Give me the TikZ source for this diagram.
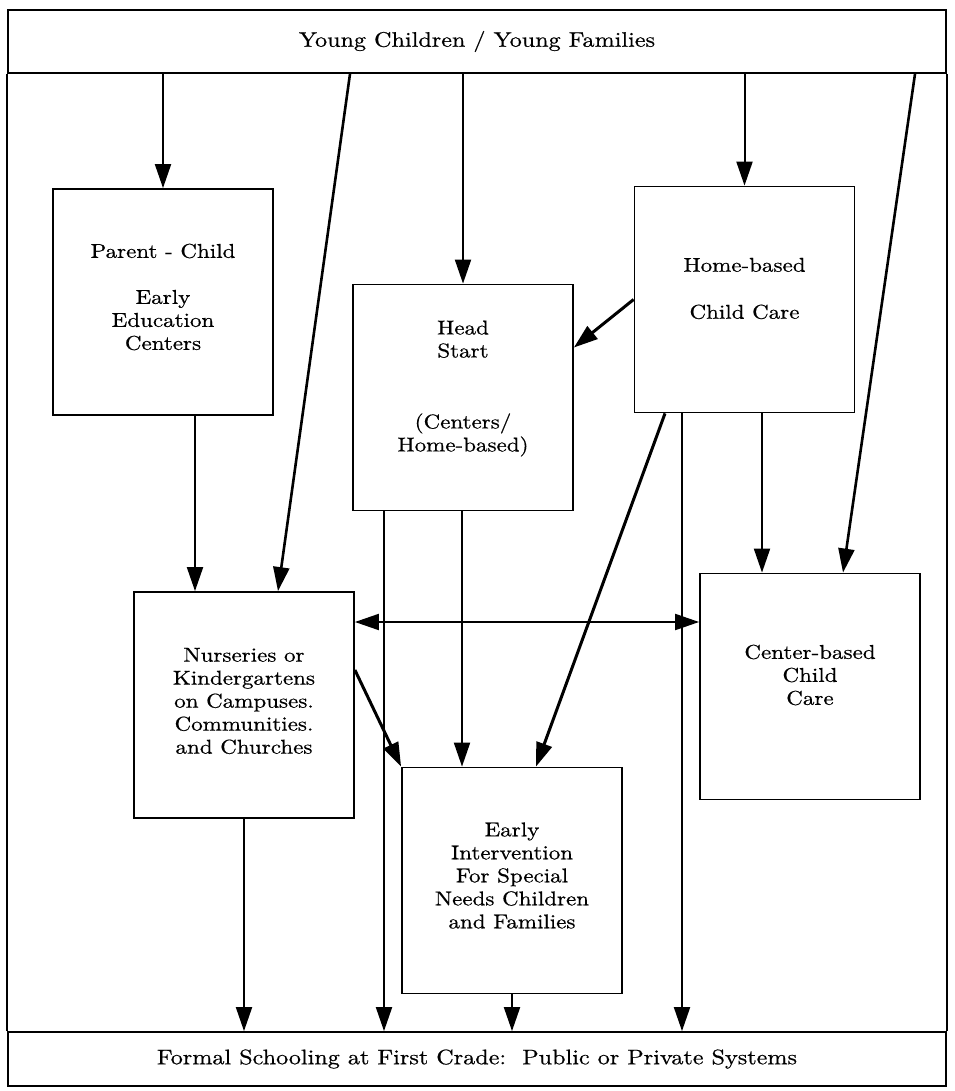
\documentclass[tikz,border=0pt]{standalone}
\usepackage{fontspec}
\newfontfamily\dfont{lmroman10-regular.otf}[FakeStretch=1.15,FakeBold=0.6]
\usetikzlibrary{arrows.meta,calc}
\begin{document}
\begin{tikzpicture}[x=1pt,y=-1pt,
  box/.style={draw, line width=1.8pt, minimum width=220pt, minimum height=226pt, inner sep=0pt},
  txt/.style={font=\dfont\fontsize{20}{23}\selectfont, align=center, inner sep=0pt},
  bar/.style={draw, line width=1.8pt, inner sep=0pt, minimum width=938pt, font=\dfont\fontsize{21}{24}\selectfont},
  arr/.style={line width=2pt, -{Triangle[length=24pt,width=16pt]}},
  thk/.style={line width=3pt},
  dbl/.style={line width=2pt, {Triangle[length=24pt,width=16pt]}-{Triangle[length=24pt,width=16pt]}},
]
\useasboundingbox (0,0) rectangle (954,1091);
\fill[white] (0,0) rectangle (954,1091);

% bars
\node[bar, minimum height=63pt] (top) at (477,41.5) {Young Children / Young Families};
\node[bar, minimum height=54pt] (bot) at (477,1059) {Formal Schooling at First Crade:\ \ Public or Private Systems};
\draw[line width=1.8pt] (top.south west) -- (bot.north west);
\draw[line width=1.8pt] (top.south east) -- (bot.north east);

% boxes
\node[box] (pc)  at (163,302)   {};
\node[box] (hs)  at (463,397.5) {};
\node[box] (hb)  at (744.5,299.5) {};
\node[box] (nur) at (244,705)   {};
\node[box] (ei)  at (512,880.5) {};
\node[box] (cb)  at (810,686.5) {};

% box texts
\node[txt] (pct)  at (163,297)   {Parent - Child\\[23pt]Early\\Education\\Centers};
\node[txt] (hst)  at (463,388.5) {Head\\Start\\[48pt](Centers/\\Home-based)};
\node[txt] (hbt)  at (744.5,288.5) {Home-based\\[24pt]Child Care};
\node[txt] (nurt) at (244,701)   {Nurseries or\\Kindergartens\\on Campuses.\\Communities.\\and Churches};
\node[txt] (eit)  at (512,875.5) {Early\\Intervention\\For Special\\Needs Children\\and Families};
\node[txt] (cbt)  at (810,675)   {Center-based\\Child\\Care};

% connectors from top bar
\draw[arr] (pc.north |- top.south) -- (pc.north);
\draw[arr] (hs.north |- top.south) -- (hs.north);
\draw[arr] (hb.north |- top.south) -- (hb.north);
\draw[arr, line width=2.6pt] ([xshift=-127pt]top.south) -- ([xshift=34pt]nur.north);
\draw[arr, line width=2.6pt] ([xshift=438pt]top.south) -- ([xshift=33pt]cb.north);

% parent-child to nurseries
\draw[arr] ([xshift=32pt]pc.south) -- ([xshift=32pt]pc.south |- nur.north);

% home-based connectors
\draw[arr, thk] (hb.west) -- ([yshift=50pt]hs.east);
\draw[arr, thk] ([xshift=-79.5pt]hb.south) -- ([xshift=24pt]ei.north);
\draw[arr] ([xshift=-62.5pt]hb.south) -- ([xshift=-62.5pt]hb.south |- bot.north);
\draw[arr] ([xshift=17.5pt]hb.south) -- ([xshift=17.5pt]hb.south |- cb.north);

% head start connectors
\draw[arr] ([xshift=-79pt]hs.south) -- ([xshift=-79pt]hs.south |- bot.north);
\draw[arr] ([xshift=-1pt]hs.south) -- ([xshift=-1pt]hs.south |- ei.north);

% nurseries connectors
\draw[dbl] ([yshift=83pt]nur.east) -- ([yshift=83pt]nur.east -| cb.west);
\draw[arr, thk] ([yshift=35pt]nur.east) -- (ei.north west);
\draw[arr] (nur.south) -- (nur.south |- bot.north);

% early intervention to bottom
\draw[arr] (ei.south) -- (ei.south |- bot.north);
\end{tikzpicture}
\end{document}
